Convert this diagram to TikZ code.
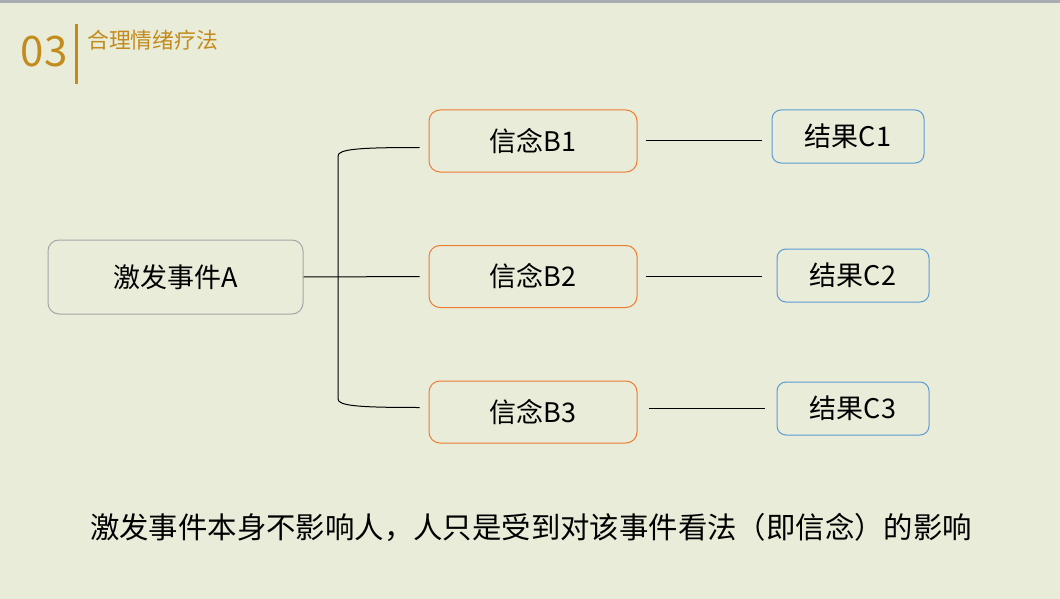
\documentclass[tikz,border=0pt]{standalone}
\usepackage{fontspec}
\setmainfont{Noto Sans CJK SC}
\usetikzlibrary{calc}
\definecolor{SlideBg}{HTML}{E8ECD9}
\definecolor{SlideTop}{HTML}{A9ACB3}
\definecolor{SlideGold}{HTML}{C38B1C}
\definecolor{BeliefOrange}{HTML}{ED7D31}
\definecolor{ResultBlue}{HTML}{5B9BD5}
\definecolor{EventGray}{HTML}{A6A6A6}
\newcommand{\boxfont}{\fontsize{27}{30}\selectfont}
\tikzset{
  event/.style={draw=EventGray,line width=1pt,rounded corners=11pt,minimum width=255pt,minimum height=74pt,inner sep=0pt,font=\boxfont},
  belief/.style={draw=BeliefOrange,line width=1pt,rounded corners=11pt,minimum width=208pt,minimum height=62pt,inner sep=0pt,font=\boxfont},
  result/.style={draw=ResultBlue,line width=1pt,rounded corners=9pt,minimum width=152pt,minimum height=53pt,inner sep=0pt,font=\boxfont},
  wire/.style={draw=black,line width=1pt}
}

\begin{document}
\begin{tikzpicture}[x=1pt,y=-1pt]
        \useasboundingbox (0,0) rectangle (1060,599);
        \fill[color=SlideBg] (0,0) rectangle (1060,599);
        \fill[color=SlideTop] (0,0) rectangle (1060,3);
        % Heading
        \node[text=SlideGold,font=\fontsize{42}{44}\selectfont,inner sep=0pt] (num) at (44,52) {03};
        \fill[color=SlideGold] (75,24) rectangle (78,84);
        \node[text=SlideGold,font=\fontsize{21.8}{24}\selectfont,anchor=west,inner sep=0pt] (title) at (87,40) {合理情绪疗法};
        % Boxes
        \node[event] (A) at (175.5,277) {激发事件A};
        \node[belief] (B1) at (533,141) {信念B1};
        \node[belief] (B2) at (533,276.5) {信念B2};
        \node[belief] (B3) at (533,412) {信念B3};
        \node[result] (C1) at (848,136.5) {结果C1};
        \node[result] (C2) at (853,275.5) {结果C2};
        \node[result] (C3) at (853,408.5) {结果C3};
        % Event to beliefs
        \coordinate (t) at ($(B1.west)+(-9,6.5)$);
        \coordinate (b) at ($(B3.west)+(-9,-4.5)$);
        \draw[wire,shorten >=9pt] (A.east) -- (B2.west);
        \draw[wire] (t) .. controls (360,147.5) and (338,149) .. (338,156)
          -- (338,399) .. controls (338,406) and (360,407.5) .. (b);
        % Beliefs to results
        \draw[wire,shorten <=8pt,shorten >=10pt] (B1.east) -- (B1.east -| C1.west);
        \draw[wire,shorten <=8pt,shorten >=15pt] (B2.east) -- (B2.east -| C2.west);
        \draw[wire,shorten <=11pt,shorten >=12pt] (C3.west -| B3.east) -- (C3.west);
        % Note
        \node[font=\fontsize{29.4}{32}\selectfont,inner sep=0pt] (note) at (531,527) {激发事件本身不影响人，人只是受到对该事件看法（即信念）的影响};
      \end{tikzpicture}
\end{document}
